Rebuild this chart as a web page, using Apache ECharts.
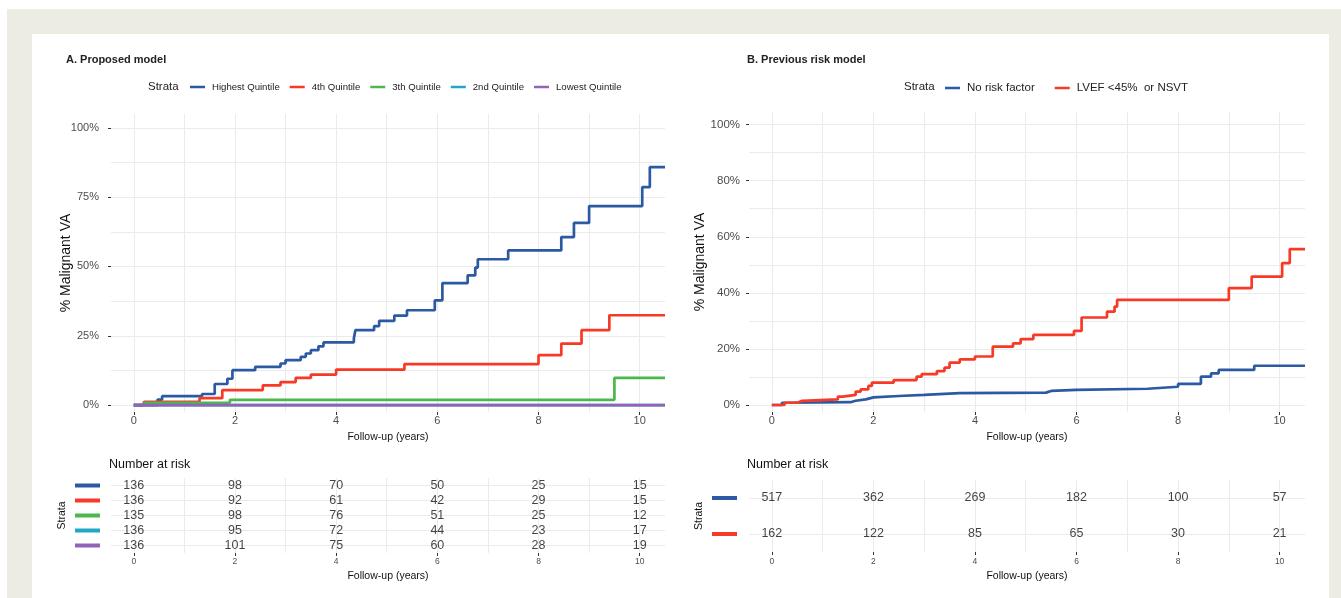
<!DOCTYPE html>
<html>
<head>
<meta charset="utf-8">
<script src="https://cdn.jsdelivr.net/npm/echarts@6/dist/echarts.min.js"></script>
<style>
  html, body { margin: 0; padding: 0; background: #fff; }
  .frame { position: absolute; left: 7px; top: 9px; width: 1334px; height: 589px; background: #edece2; }
  .panel { position: absolute; left: 32px; top: 34px; width: 1297px; height: 564px; background: #fff; }
  #main { position: absolute; left: 0; top: 0; width: 1341px; height: 598px; }
</style>
</head>
<body>
<div class="frame"></div>
<div class="panel"></div>
<div id="main"></div>
<script>
// --- panel A: proposed model (cumulative % malignant VA) ---
const highestT = [0, 0.47, 0.56, 1.35, 1.6, 1.85, 1.95, 2.4, 2.9, 3.0, 3.3, 3.4, 3.5, 3.65, 3.75, 4.35, 4.38, 4.75, 4.85, 5.15, 5.4, 5.95, 6.1, 6.6, 6.75, 6.8, 7.4, 8.45, 8.7, 9.0, 10.05, 10.2, 10.5];
const highestV = [0, 2.0, 3.2, 4.0, 7.6, 9.5, 12.6, 13.8, 15.0, 16.2, 17.4, 18.6, 19.8, 21.2, 22.6, 24.0, 27.0, 28.5, 30.4, 32.3, 34.2, 37.8, 44.0, 46.8, 49.6, 52.6, 55.8, 60.6, 65.7, 71.8, 78.6, 85.8, 85.8];
const q4T = [0, 0.2, 1.3, 1.75, 2.55, 2.9, 3.2, 3.5, 4.0, 5.35, 8.0, 8.45, 8.85, 9.4, 10.5];
const q4V = [0, 1.2, 2.5, 5.4, 7.1, 8.3, 9.8, 11.0, 12.8, 14.8, 18.0, 22.2, 27.0, 32.4, 32.4];
const q3T = [0, 0.2, 1.9, 9.5, 10.5];
const q3V = [0, 0.8, 1.9, 9.8, 9.8];
const q2T = [0, 10.5];
const q2V = [0, 0];
const lowestT = [0, 10.5];
const lowestV = [0, 0];

// --- panel B: previous risk model ---
const noRiskT = [0, 0.2, 0.3, 1.55, 1.65, 1.85, 2.0, 2.5, 3.0, 3.3, 3.7, 5.4, 5.5, 6.0, 7.4, 8.0, 8.45, 8.65, 8.8, 9.5, 10.5];
const noRiskV = [0, 0.8, 1.0, 1.5, 2.0, 2.7, 3.2, 3.6, 3.9, 4.2, 4.4, 5.0, 5.4, 5.8, 6.5, 7.5, 10.1, 11.3, 12.5, 14.0, 14.0];
const lvefT = [0, 0.25, 0.5, 0.6, 1.3, 1.4, 1.65, 1.75, 1.9, 1.97, 2.4, 2.85, 2.95, 3.25, 3.4, 3.5, 3.7, 4.0, 4.35, 4.75, 4.9, 5.15, 5.95, 6.1, 6.6, 6.75, 6.8, 9.0, 9.45, 10.05, 10.2, 10.5];
const lvefV = [0, 0.8, 1.5, 2.0, 3.0, 3.6, 4.8, 5.6, 6.8, 8.0, 8.9, 10.1, 11.0, 12.1, 13.3, 15.1, 16.3, 17.3, 20.8, 22.0, 23.5, 25.0, 26.4, 31.2, 33.3, 35.1, 37.5, 41.7, 45.8, 50.6, 55.6, 55.6];

// number at risk
const riskTimes = [0, 2, 4, 6, 8, 10];
const riskHighest = [136, 98, 70, 50, 25, 15];
const risk4th = [136, 92, 61, 42, 29, 15];
const risk3th = [135, 98, 76, 51, 25, 12];
const risk2nd = [136, 95, 72, 44, 23, 17];
const riskLowest = [136, 101, 75, 60, 28, 19];
const riskNoRisk = [517, 362, 269, 182, 100, 57];
const riskLvef = [162, 122, 85, 65, 30, 21];

const namesA = ['Highest Quintile', '4th Quintile', '3th Quintile', '2nd Quintile', 'Lowest Quintile'];
const namesB = ['No risk factor', 'LVEF <45%  or NSVT'];
const colorsA = ['#2b5aa3', '#f73a26', '#4cb74a', '#22a6c6', '#9363b8'];
const colorsB = ['#2b5aa3', '#f73a26'];

const xLabelTicks = [0, 2, 4, 6, 8, 10];
const xGridTicks = [0, 1, 2, 3, 4, 5, 6, 7, 8, 9, 10];
const yTicksA = [0, 25, 50, 75, 100];
const yGridA = [0, 12.5, 25, 37.5, 50, 62.5, 75, 87.5, 100];
const yTicksB = [0, 20, 40, 60, 80, 100];
const yGridB = [0, 10, 20, 30, 40, 50, 60, 70, 80, 90, 100];

const chart = echarts.init(document.getElementById('main'));
const gridColor = '#ebebeb';
const font = 'Liberation Sans';

function zip(t, v) { return t.map((x, i) => [x, v[i]]); }

// labelled x axis + a silent one for the grid lines
function xAxes(grid, tickFont, margin, nameGap) {
  return [
    {
      gridIndex: grid, type: 'value', min: -0.45, max: 10.5,
      axisLine: { show: false, onZero: false },
      axisTick: { show: true, length: 3, customValues: xLabelTicks, lineStyle: { color: '#333' } },
      axisLabel: { customValues: xLabelTicks, fontSize: tickFont, color: '#4d4d4d', margin: margin },
      splitLine: { show: false },
      name: 'Follow-up (years)', nameLocation: 'middle', nameGap: nameGap, nameMoveOverlap: false,
      nameTextStyle: { fontSize: 10.5, color: '#111' }
    },
    {
      gridIndex: grid, type: 'value', min: -0.45, max: 10.5, position: 'bottom',
      axisLine: { show: false, onZero: false }, axisLabel: { show: false },
      axisTick: { show: false, customValues: xGridTicks },
      splitLine: { show: true, lineStyle: { color: gridColor } }
    }
  ];
}

function yAxesPlot(grid, min, max, ticks, gridTicks, fontSize, margin, nameGap) {
  return [
    {
      gridIndex: grid, type: 'value', min: min, max: max,
      axisLine: { show: false, onZero: false },
      axisTick: { show: true, length: 3, customValues: ticks, lineStyle: { color: '#333' } },
      axisLabel: { customValues: ticks, formatter: '{value}%', fontSize: fontSize, color: '#4d4d4d', margin: margin },
      splitLine: { show: false },
      name: '% Malignant VA', nameLocation: 'middle', nameGap: nameGap, nameMoveOverlap: false,
      nameTextStyle: { fontSize: 14, color: '#111' }
    },
    {
      gridIndex: grid, type: 'value', min: min, max: max, position: 'left',
      axisLine: { show: false, onZero: false }, axisLabel: { show: false },
      axisTick: { show: false, customValues: gridTicks },
      splitLine: { show: true, lineStyle: { color: gridColor } }
    }
  ];
}

function yAxisTable(grid, colors, barWidth, margin, nameGap) {
  const rows = colors.map((c, i) => i);
  const rich = {};
  colors.forEach((c, i) => { rich['s' + i] = { width: barWidth, height: 4, backgroundColor: c }; });
  return {
    gridIndex: grid, type: 'value', min: -0.5, max: colors.length - 0.5, inverse: true,
    axisLine: { show: false, onZero: false },
    axisTick: { show: false, customValues: rows },
    axisLabel: { customValues: rows, margin: margin, formatter: v => '{s' + v + '|}', rich: rich },
    splitLine: { show: true, lineStyle: { color: gridColor } },
    name: 'Strata', nameLocation: 'middle', nameGap: nameGap, nameMoveOverlap: false,
    nameTextStyle: { fontSize: 10.5, color: '#111' }
  };
}

function stepSeries(name, t, v, color, xi, yi) {
  return {
    name: name, type: 'line', step: 'end', xAxisIndex: xi, yAxisIndex: yi,
    data: zip(t, v), showSymbol: false, symbol: 'none',
    lineStyle: { color: color, width: 2.7 }, itemStyle: { color: color },
    animation: false
  };
}

function riskSeries(name, rows, xi, yi) {
  const data = [];
  rows.forEach((r, ri) => r.forEach((n, ti) => data.push([riskTimes[ti], ri, n])));
  return {
    name: name, type: 'scatter', xAxisIndex: xi, yAxisIndex: yi, data: data,
    symbolSize: 1, itemStyle: { color: 'rgba(0,0,0,0)' }, silent: true, animation: false,
    label: { show: true, position: 'inside', formatter: p => p.value[2], fontSize: 12.5, color: '#111' }
  };
}

const titleStyle = { fontSize: 11, fontWeight: 'bold', color: '#222', fontFamily: font };
const strataStyle = { fontSize: 11.5, fontWeight: 'normal', color: '#222', fontFamily: font };
const riskTitleStyle = { fontSize: 12.5, fontWeight: 'normal', color: '#111', fontFamily: font };

chart.setOption({
  animation: false,
  textStyle: { fontFamily: font },
  title: [
    { text: 'A. Proposed model', left: 66, top: 54, padding: 0, textStyle: titleStyle },
    { text: 'Strata', left: 148, top: 81, padding: 0, textStyle: strataStyle },
    { text: 'B. Previous risk model', left: 747, top: 54, padding: 0, textStyle: titleStyle },
    { text: 'Strata', left: 904, top: 81, padding: 0, textStyle: strataStyle },
    { text: 'Number at risk', left: 109, top: 458, padding: 0, textStyle: riskTitleStyle },
    { text: 'Number at risk', left: 747, top: 458, padding: 0, textStyle: riskTitleStyle }
  ],
  legend: [
    {
      data: namesA, left: 190, top: 82, padding: 0, icon: 'rect',
      itemWidth: 15, itemHeight: 2.5, itemGap: 10,
      textStyle: { fontSize: 9.6, color: '#222', padding: [0, 0, 0, 2] }
    },
    {
      data: namesB, left: 945, top: 82, padding: 0, icon: 'rect',
      itemWidth: 15, itemHeight: 2.5, itemGap: 20,
      textStyle: { fontSize: 11.5, color: '#222', padding: [0, 0, 0, 2] }
    }
  ],
  grid: [
    { left: 111, top: 114, width: 554, height: 298 },
    { left: 111, top: 478, width: 554, height: 75 },
    { left: 749, top: 112, width: 556, height: 300 },
    { left: 749, top: 480, width: 556, height: 72 }
  ],
  xAxis: [].concat(xAxes(0, 11, 3, 20), xAxes(1, 8.5, 4, 18), xAxes(2, 11, 3, 20), xAxes(3, 8.5, 5, 19)),
  yAxis: [].concat(
    yAxesPlot(0, -2.5, 105, yTicksA, yGridA, 11, 12, 38),
    [yAxisTable(1, colorsA, 25, 11, 43)],
    yAxesPlot(2, -2.5, 104.5, yTicksB, yGridB, 11.5, 9, 42),
    [yAxisTable(3, colorsB, 25, 12, 44)]
  ),
  series: [
    stepSeries(namesA[0], highestT, highestV, colorsA[0], 0, 0),
    stepSeries(namesA[1], q4T, q4V, colorsA[1], 0, 0),
    stepSeries(namesA[2], q3T, q3V, colorsA[2], 0, 0),
    stepSeries(namesA[3], q2T, q2V, colorsA[3], 0, 0),
    stepSeries(namesA[4], lowestT, lowestV, colorsA[4], 0, 0),
    riskSeries('riskA', [riskHighest, risk4th, risk3th, risk2nd, riskLowest], 2, 2),
    stepSeries(namesB[0], noRiskT, noRiskV, colorsB[0], 4, 3),
    stepSeries(namesB[1], lvefT, lvefV, colorsB[1], 4, 3),
    riskSeries('riskB', [riskNoRisk, riskLvef], 6, 5)
  ]
});
</script>
</body>
</html>
